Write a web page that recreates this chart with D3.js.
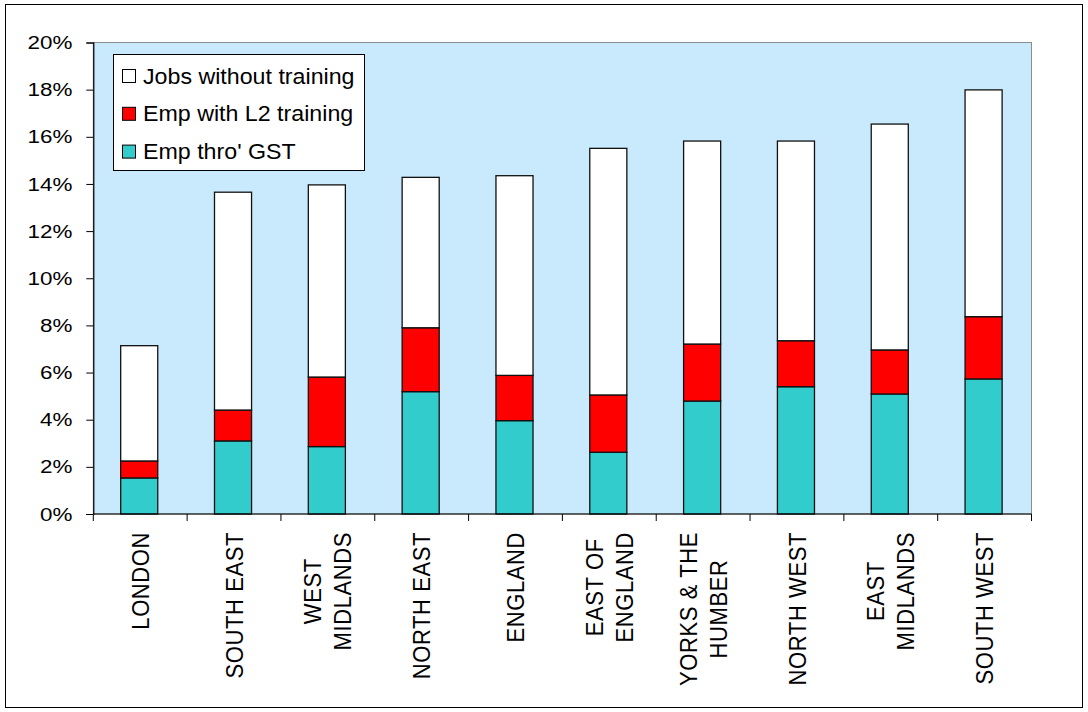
<!DOCTYPE html>
<html>
<head>
<meta charset="utf-8">
<script src="https://cdn.jsdelivr.net/npm/d3@7"></script>
<style>
  body { margin: 0; background: #fff; }
  text { font-family: "Liberation Sans", Arial, sans-serif; fill: #000; }
</style>
</head>
<body>
<svg id="chart" width="1088" height="712"></svg>
<script>
const REGIONS = [
  ['LONDON'], ['SOUTH EAST'], ['WEST', 'MIDLANDS'], ['NORTH EAST'], ['ENGLAND'],
  ['EAST OF', 'ENGLAND'], ['YORKS & THE', 'HUMBER'], ['NORTH WEST'], ['EAST', 'MIDLANDS'], ['SOUTH WEST']
];
const SERIES = ['Emp thro\' GST', 'Emp with L2 training', 'Jobs without training'];
const GST = [1.53, 3.10, 2.86, 5.19, 3.96, 2.62, 4.79, 5.40, 5.09, 5.73];
const L2 = [0.72, 1.31, 2.95, 2.71, 1.92, 2.43, 2.42, 1.95, 1.87, 2.64];
const NO_TRAINING = [4.89, 9.24, 8.15, 6.38, 8.47, 10.46, 8.61, 8.47, 9.58, 9.62];
const Y_TICKS = [0, 2, 4, 6, 8, 10, 12, 14, 16, 18, 20];
const COLORS = ['#33CCCC', '#FF0000', '#FFFFFF'];

const rows = REGIONS.map((r, i) => ({key: r.join(' '), lines: r, gst: GST[i], l2: L2[i], none: NO_TRAINING[i]}));

const svg = d3.select('#chart');
const plotL = 93.3, plotR = 1031.5, plotT = 42.5, plotB = 514;

// outer frame
svg.append('rect')
  .attr('x', 5.5).attr('y', 4.5).attr('width', 1077).attr('height', 703)
  .attr('fill', '#fff').attr('stroke', '#000').attr('stroke-width', 1);

// plot area
svg.append('rect')
  .attr('x', plotL).attr('y', plotT).attr('width', plotR - plotL).attr('height', plotB - plotT)
  .attr('fill', '#C9EAFD').attr('stroke', '#8c8c8c').attr('stroke-width', 1);

const x = d3.scaleBand().domain(rows.map(d => d.key)).range([plotL, plotR]);
const y = d3.scaleLinear().domain([0, 20]).range([plotB, plotT]);

const stack = d3.stack().keys(['gst', 'l2', 'none']);
const layers = stack(rows);
const barW = x.bandwidth() * 0.395;

svg.selectAll('.layer')
  .data(layers)
  .enter()
  .append('g')
  .attr('fill', (d, i) => COLORS[i])
  .selectAll('rect')
  .data(d => d)
  .enter()
  .append('rect')
  .attr('x', d => x(d.data.key) + x.bandwidth() / 2 - barW / 2 - 1)
  .attr('width', barW)
  .attr('y', d => y(d[1]))
  .attr('height', d => y(d[0]) - y(d[1]))
  .attr('stroke', '#111')
  .attr('stroke-width', 1.3);

// y axis
const yAxis = svg.append('g')
  .attr('transform', `translate(${plotL},0)`)
  .call(d3.axisLeft(y).tickValues(Y_TICKS).tickSize(7).tickPadding(14).tickFormat(d => d + '%'));
yAxis.select('.domain').attr('stroke', '#000').attr('stroke-width', 1.2);
yAxis.selectAll('.tick line').attr('stroke', '#000');
yAxis.selectAll('.tick text')
  .attr('font-size', 19)
  .attr('font-family', '"Liberation Sans", Arial, sans-serif')
  .each(function() {
    const t = d3.select(this);
    const tx = +t.attr('x');
    t.attr('x', null).attr('transform', `translate(${tx},0) scale(1.18,1)`);
  });

// x axis: ticks on band edges
const xAxisG = svg.append('g').attr('transform', `translate(0,${plotB})`);
xAxisG.append('line')
  .attr('x1', plotL).attr('x2', plotR).attr('stroke', '#000').attr('stroke-width', 1.2);
const edges = rows.map(d => x(d.key)).concat([plotR]);
xAxisG.selectAll('.edge')
  .data(edges)
  .enter()
  .append('line')
  .attr('x1', d => d).attr('x2', d => d)
  .attr('y1', 0).attr('y2', 7)
  .attr('stroke', '#000');

// category labels, rotated, centred lines, top aligned
const labelTop = 532;
const lineGap = 30;
const labScale = 1.1;
const lab = svg.selectAll('.cat')
  .data(rows)
  .enter()
  .append('g')
  .attr('transform', d => `translate(${x(d.key) + x.bandwidth() / 2},${labelTop}) scale(${labScale},1) rotate(-90)`);

lab.each(function(d) {
  const g = d3.select(this);
  const n = d.lines.length;
  const texts = d.lines.map((line, i) => g.append('text')
    .attr('font-size', 22)
    .attr('letter-spacing', 0.6)
    .attr('text-anchor', 'middle')
    .attr('y', ((i - (n - 1) / 2) * lineGap) / labScale + 7.8)
    .text(line));
  const maxLen = d3.max(texts, t => t.node().getComputedTextLength());
  texts.forEach(t => t.attr('x', -maxLen / 2));
});

// legend
const legend = svg.append('g');
legend.append('rect')
  .attr('x', 113.5).attr('y', 54.5).attr('width', 251).attr('height', 116)
  .attr('fill', '#fff').attr('stroke', '#000').attr('stroke-width', 1);

const legendItems = [2, 1, 0];
const li = legend.selectAll('.item')
  .data(legendItems)
  .enter()
  .append('g')
  .attr('transform', (d, i) => `translate(122,${76 + i * 37.8})`);
li.append('rect')
  .attr('x', 0.5).attr('y', -6.5).attr('width', 13).attr('height', 13)
  .attr('fill', d => COLORS[d]).attr('stroke', '#000').attr('stroke-width', 1);
li.append('text')
  .attr('transform', 'translate(21,7.5) scale(1.08,1)')
  .attr('font-size', 21.5)
  .text(d => SERIES[d]);
</script>
</body>
</html>
